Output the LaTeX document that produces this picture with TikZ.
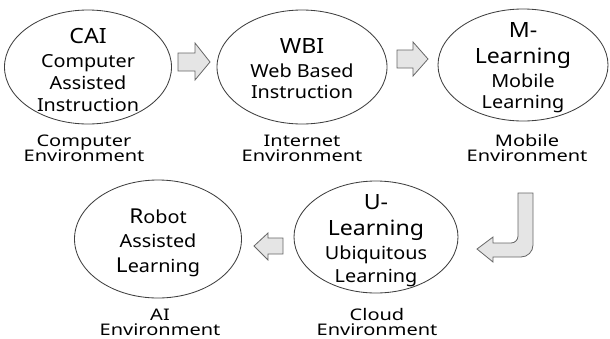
\documentclass[tikz,border=0pt]{standalone}
\usepackage{fontspec}
\setmainfont{Noto Sans}[FakeStretch=1.1]
\newfontfamily\envfont{Noto Sans}[FakeStretch=1.25]
\usetikzlibrary{shapes.geometric}
\tikzset{
  stage/.style={draw=black!75, line width=0.85pt, ellipse, inner sep=0pt},
  ttl/.style={anchor=base, inner sep=0pt, font=\fontsize{21}{25}\selectfont},
  bdy/.style={anchor=base, inner sep=0pt, font=\fontsize{18}{22}\selectfont},
  env/.style={anchor=base, inner sep=0pt, font=\envfont\fontsize{16}{15}\selectfont},
  blockarrow/.style={draw=black!60, fill=black!10, line width=0.8pt, line join=miter},
}
\newcommand{\bigini}[1]{{\fontsize{20.5}{22}\selectfont #1}}
\begin{document}
\begin{tikzpicture}[x=1pt,y=-1pt]
\useasboundingbox (0,0) rectangle (610,338);
% ellipses
\node[stage, minimum width=167pt, minimum height=114pt] (cai) at (88,67) {};
\node[stage, minimum width=170pt, minimum height=114pt] (wbi) at (302,67) {};
\node[stage, minimum width=170pt, minimum height=112pt] (ml) at (523,65) {};
\node[stage, minimum width=167pt, minimum height=118pt] (ral) at (158,239) {};
\node[stage, minimum width=164pt, minimum height=112pt] (ul) at (376,237) {};
% CAI
\node[ttl] (caiT) at (88,43) {CAI};
\node[bdy] (caiB1) at (88,67) {Computer};
\node[bdy] (caiB2) at (88,89) {Assisted};
\node[bdy] (caiB3) at (88,111) {Instruction};
% WBI
\node[ttl] (wbiT) at (302,53) {WBI};
\node[bdy] (wbiB1) at (302,77) {Web Based};
\node[bdy] (wbiB2) at (302,98.5) {Instruction};
% M-Learning
\node[ttl] (mlT1) at (523,37) {M-};
\node[ttl] (mlT2) at (523,63.5) {Learning};
\node[bdy] (mlB1) at (523,87) {Mobile};
\node[bdy] (mlB2) at (523,108.5) {Learning};
% Robot
\node[bdy] (ralB1) at (158,223) {\bigini{R}obot};
\node[bdy] (ralB2) at (158,247) {Assisted};
\node[bdy] (ralB3) at (158,272) {\bigini{L}earning};
% U-Learning
\node[ttl] (ulT1) at (376,209) {U-};
\node[ttl] (ulT2) at (376,235) {Learning};
\node[bdy] (ulB1) at (376,259) {Ubiquitous};
\node[bdy] (ulB2) at (376,282) {Learning};
% environment labels
\node[env] (e1a) at (84,146) {Computer};
\node[env] (e1b) at (84,161) {Environment};
\node[env] (e2a) at (302,146) {Internet};
\node[env] (e2b) at (302,161) {Environment};
\node[env] (e3a) at (527,146) {Mobile};
\node[env] (e3b) at (527,161) {Environment};
\node[env] (e4a) at (160,320.5) {AI};
\node[env] (e4b) at (160,335) {Environment};
\node[env] (e5a) at (377,320.5) {Cloud};
\node[env] (e5b) at (377,335) {Environment};
% block arrows
\draw[blockarrow] (178,53) -- (195,53) -- (195,43) -- (210,62) -- (195,80) -- (195,71) -- (178,71) -- cycle;
\draw[blockarrow] (397,50) -- (413,50) -- (413,42) -- (428,59) -- (413,76) -- (413,68) -- (397,68) -- cycle;
\draw[blockarrow] (283,238) -- (268,238) -- (268,233) -- (254,246) -- (268,260) -- (268,254) -- (283,254) -- cycle;
\draw[blockarrow] (518,193) -- (533,193) -- (533,245) to[out=-90,in=0] (521,257) -- (493,257) -- (493,262) -- (477,249) -- (493,237) -- (493,243) -- (511,243) to[out=0,in=-90] (518,236) -- cycle;
\end{tikzpicture}
\end{document}
